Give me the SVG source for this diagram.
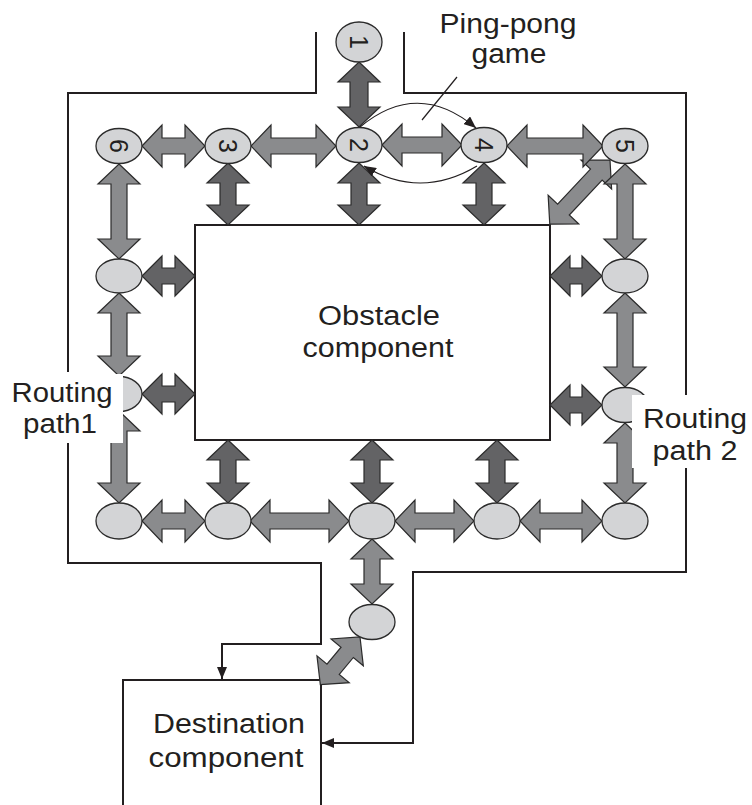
<svg xmlns="http://www.w3.org/2000/svg" width="752" height="805" viewBox="0 0 752 805">
<defs>
<style>
.ln{fill:none;stroke:#231f20;stroke-width:2}
.thin{fill:none;stroke:#231f20;stroke-width:1.2}
.m{fill:#8a8b8d;stroke:#2b2b2b;stroke-width:1.2;stroke-linejoin:miter}
.d{fill:#636365;stroke:#2b2b2b;stroke-width:1.2;stroke-linejoin:miter}
.nd{fill:#d3d4d6;stroke:#2b2b2b;stroke-width:1.3}
.t{font-family:"Liberation Sans",Arial,sans-serif;font-size:27px;fill:#231f20;text-anchor:middle}
.dg{font-family:"Liberation Sans",Arial,sans-serif;font-size:25px;fill:#231f20;text-anchor:middle}
</style>
<marker id="ah" viewBox="0 0 12 10" refX="12" refY="5" markerWidth="12" markerHeight="10" markerUnits="userSpaceOnUse" orient="auto">
<path d="M0,0 L12,5 L0,10 Z" fill="#231f20"/>
</marker>
</defs>
<rect width="752" height="805" fill="#ffffff"/>

<g id="boundary">
<path class="ln" d="M316,32 V93 H68 V372"/>
<path class="ln" d="M68,443 V563 H321 V644 H222 V679" marker-end="url(#ah)"/>
<path class="ln" d="M404,32 V93 H686 V395"/>
<path class="ln" d="M686,468 V572 H413 V743 H322" marker-end="url(#ah)"/>
</g>

<g id="obstacle">
<rect class="ln" x="195" y="225" width="355" height="215" fill="#ffffff"/>
<text class="t" x="379" y="325" textLength="122" lengthAdjust="spacingAndGlyphs">Obstacle</text>
<text class="t" x="378" y="357" textLength="151" lengthAdjust="spacingAndGlyphs">component</text>
</g>

<g id="destination">
<path class="ln" d="M123,805 V680 H321 V805"/>
<text class="t" x="229" y="733" textLength="152" lengthAdjust="spacingAndGlyphs">Destination</text>
<text class="t" x="226" y="767" textLength="155" lengthAdjust="spacingAndGlyphs">component</text>
</g>

<g id="connectors">
<polygon class="m" transform="translate(142,146)" points="0,0 20,-21 20,-8 43,-8 43,-21 63,0 43,21 43,8 20,8 20,21"/>
<polygon class="m" transform="translate(251,146)" points="0,0 20,-21 20,-8 65,-8 65,-21 85,0 65,21 65,8 20,8 20,21"/>
<polygon class="m" transform="translate(382,145)" points="0,0 20,-21 20,-8 60,-8 60,-21 80,0 60,21 60,8 20,8 20,21"/>
<polygon class="m" transform="translate(610,160) rotate(133.2)" points="0,0 20,-21 20,-8 68,-8 68,-21 88,0 68,21 68,8 20,8 20,21"/>
<polygon class="m" transform="translate(507,146)" points="0,0 20,-21 20,-8 76,-8 76,-21 96,0 76,21 76,8 20,8 20,21"/>
<polygon class="m" transform="translate(142,521)" points="0,0 20,-21 20,-8 43,-8 43,-21 63,0 43,21 43,8 20,8 20,21"/>
<polygon class="m" transform="translate(250,521)" points="0,0 20,-21 20,-8 79,-8 79,-21 99,0 79,21 79,8 20,8 20,21"/>
<polygon class="m" transform="translate(395,521)" points="0,0 20,-21 20,-8 59,-8 59,-21 79,0 59,21 59,8 20,8 20,21"/>
<polygon class="m" transform="translate(520,521)" points="0,0 20,-21 20,-8 62,-8 62,-21 82,0 62,21 62,8 20,8 20,21"/>
<polygon class="m" transform="translate(119,164) rotate(90)" points="0,0 20,-21 20,-8 75,-8 75,-21 95,0 75,21 75,8 20,8 20,21"/>
<polygon class="m" transform="translate(119,293) rotate(90)" points="0,0 20,-21 20,-8 63,-8 63,-21 83,0 63,21 63,8 20,8 20,21"/>
<polygon class="m" transform="translate(119,411) rotate(90)" points="0,0 20,-21 20,-8 72,-8 72,-21 92,0 72,21 72,8 20,8 20,21"/>
<polygon class="m" transform="translate(625,164) rotate(90)" points="0,0 20,-21 20,-8 75,-8 75,-21 95,0 75,21 75,8 20,8 20,21"/>
<polygon class="m" transform="translate(625,293) rotate(90)" points="0,0 20,-21 20,-8 74,-8 74,-21 94,0 74,21 74,8 20,8 20,21"/>
<polygon class="m" transform="translate(625,423) rotate(90)" points="0,0 20,-21 20,-8 60,-8 60,-21 80,0 60,21 60,8 20,8 20,21"/>
<polygon class="m" transform="translate(372,539) rotate(90)" points="0,0 20,-21 20,-8 45,-8 45,-21 65,0 45,21 45,8 20,8 20,21"/>
<polygon class="m" transform="translate(360,637) rotate(129.8)" points="0,0 20,-21 20,-8 42,-8 42,-21 62,0 42,21 42,8 20,8 20,21"/>
<polygon class="d" transform="translate(359,62) rotate(90)" points="0,0 20,-21 20,-9 45,-9 45,-21 65,0 45,21 45,9 20,9 20,21"/>
<polygon class="d" transform="translate(228,163) rotate(90)" points="0,0 20,-21 20,-8 42,-8 42,-21 62,0 42,21 42,8 20,8 20,21"/>
<polygon class="d" transform="translate(359,163) rotate(90)" points="0,0 20,-21 20,-8 42,-8 42,-21 62,0 42,21 42,8 20,8 20,21"/>
<polygon class="d" transform="translate(484,163) rotate(90)" points="0,0 20,-21 20,-8 42,-8 42,-21 62,0 42,21 42,8 20,8 20,21"/>
<polygon class="d" transform="translate(228,440) rotate(90)" points="0,0 20,-21 20,-8 43,-8 43,-21 63,0 43,21 43,8 20,8 20,21"/>
<polygon class="d" transform="translate(372,440) rotate(90)" points="0,0 20,-21 20,-8 43,-8 43,-21 63,0 43,21 43,8 20,8 20,21"/>
<polygon class="d" transform="translate(497,440) rotate(90)" points="0,0 20,-21 20,-8 43,-8 43,-21 63,0 43,21 43,8 20,8 20,21"/>
<polygon class="d" transform="translate(142,276)" points="0,0 20,-20 20,-8 33,-8 33,-20 53,0 33,20 33,8 20,8 20,20"/>
<polygon class="d" transform="translate(142,394)" points="0,0 20,-20 20,-8 33,-8 33,-20 53,0 33,20 33,8 20,8 20,20"/>
<polygon class="d" transform="translate(550,276)" points="0,0 20,-20 20,-8 32,-8 32,-20 52,0 32,20 32,8 20,8 20,20"/>
<polygon class="d" transform="translate(550,405)" points="0,0 20,-20 20,-8 32,-8 32,-20 52,0 32,20 32,8 20,8 20,20"/>
<path class="thin" d="M360,127 Q418,79 476,128" marker-end="url(#ah)"/>
<path class="thin" d="M477,166 Q420,200 364,166" marker-end="url(#ah)"/>
<line class="thin" x1="457" y1="77" x2="422" y2="120"/>
</g>

<g id="n1"><ellipse class="nd" cx="359" cy="42" rx="23" ry="20"/><text class="dg" transform="translate(359,42) rotate(90)" dy="9">1</text></g>
<g id="n6"><ellipse class="nd" cx="119" cy="146" rx="23" ry="17.5"/><text class="dg" transform="translate(119,146) rotate(90)" dy="9">6</text></g>
<g id="n3"><ellipse class="nd" cx="228" cy="146" rx="23" ry="17.5"/><text class="dg" transform="translate(228,146) rotate(90)" dy="9">3</text></g>
<g id="n2"><ellipse class="nd" cx="359" cy="145" rx="23" ry="17.5"/><text class="dg" transform="translate(359,145) rotate(90)" dy="9">2</text></g>
<g id="n4"><ellipse class="nd" cx="484" cy="145" rx="23" ry="17.5"/><text class="dg" transform="translate(484,145) rotate(90)" dy="9">4</text></g>
<g id="n5"><ellipse class="nd" cx="625" cy="146" rx="23" ry="17.5"/><text class="dg" transform="translate(625,146) rotate(90)" dy="9">5</text></g>
<g id="l1"><ellipse class="nd" cx="119" cy="276" rx="23" ry="17"/></g>
<g id="l2"><ellipse class="nd" cx="119" cy="394" rx="23" ry="17.5"/></g>
<g id="l3"><ellipse class="nd" cx="119" cy="521" rx="23" ry="18"/></g>
<g id="r1"><ellipse class="nd" cx="625" cy="276" rx="23" ry="17"/></g>
<g id="r2"><ellipse class="nd" cx="625" cy="405" rx="23" ry="17.5"/></g>
<g id="r3"><ellipse class="nd" cx="625" cy="521" rx="23" ry="18"/></g>
<g id="b2"><ellipse class="nd" cx="228" cy="521" rx="23" ry="18"/></g>
<g id="b3"><ellipse class="nd" cx="372" cy="521" rx="23" ry="18"/></g>
<g id="b4"><ellipse class="nd" cx="497" cy="521" rx="23" ry="18"/></g>
<g id="exit"><ellipse class="nd" cx="372" cy="622" rx="23" ry="17.5"/></g>

<g id="label-path1">
<rect x="0" y="374" width="123" height="69" fill="#ffffff"/>
<text class="t" x="62" y="402" textLength="101" lengthAdjust="spacingAndGlyphs">Routing</text>
<text class="t" x="60" y="433" textLength="74" lengthAdjust="spacingAndGlyphs">path1</text>
</g>
<g id="label-path2">
<rect x="632" y="395" width="120" height="73" fill="#ffffff"/>
<text class="t" x="695" y="428" textLength="104" lengthAdjust="spacingAndGlyphs">Routing</text>
<text class="t" x="695" y="460" textLength="85" lengthAdjust="spacingAndGlyphs">path 2</text>
</g>
<g id="label-pingpong">
<text class="t" x="508" y="33" textLength="137" lengthAdjust="spacingAndGlyphs">Ping-pong</text>
<text class="t" x="509" y="63" textLength="75" lengthAdjust="spacingAndGlyphs">game</text>
</g>
</svg>
